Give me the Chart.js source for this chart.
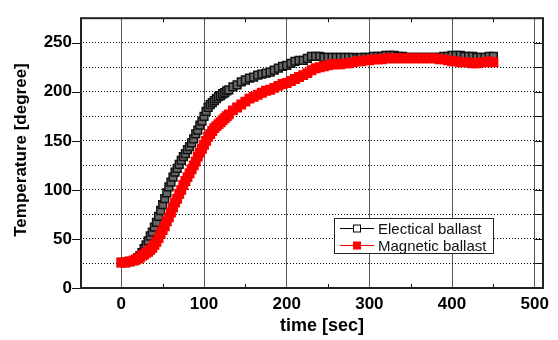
<!DOCTYPE html>
<html>
<head>
<meta charset="utf-8">
<script src="https://cdn.jsdelivr.net/npm/chart.js@4.4.1/dist/chart.umd.min.js"></script>
<style>
html,body{margin:0;padding:0;background:#fff}
#wrap{width:558px;height:340px;position:relative}
</style>
</head>
<body>
<div id="wrap"><canvas id="myChart" width="558" height="340"></canvas></div>
<script>
// sample times [sec]
let times = [0,5,10,
	15,17.5,20,22.5,25,27.5,30,32.5,35,37.5,
	40,42.5,45,47.5,50,52.5,55,57.5,60,62.5,
	65,67.5,70,72.5,75,77.5,80,82.5,85,87.5,
	90,92.5,95,97.5,100,102.5,105,107.5,110,112.5,
	115,117.5,120,122.5,125,127.5,130,
	135,140,145,150,155,160,165,170,175,180,
	185,190,195,200,205,210,215,220,225,230,
	235,240,245,250,255,260,265,270,275,280,
	285,290,295,300,305,310,315,320,325,330,
	335,340,345,350,355,360,365,370,375,380,
	385,390,395,400,405,410,415,420,425,430,
	435,440,445,450]

let electrical = [26,26,27,
	28,29,31,33,36,40,44,48,53,57,
	62,67,73,79,85,91,97,103,108,113,
	118,122,126,130,134,137,141,144,148,152,
	157,161,166,170,175,180,184,187,189,191,
	193,195,196,198,199,201,202,
	205,207,210,212,214,215,217,218,219,220,
	222,224,226,227,229,231,232,232,234,236,
	236,236,235,235,235,235,235,235,235,235,
	234,235,235,235,236,236,236,237,237,237,
	236,236,235,235,235,235,235,235,235,235,
	235,236,236,237,237,237,236,236,236,235,
	235,235,236,236]

let magnetic = [26,26,27,
	28,29,30,31,33,34,36,37,39,41,
	44,47,51,55,59,63,68,72,77,82,
	87,91,96,100,105,109,113,117,121,125,
	129,134,138,142,146,150,154,157,160,163,
	165,167,169,171,173,175,177,
	181,184,187,190,193,195,197,199,201,202,
	204,206,208,209,211,213,215,217,219,222,
	224,225,226,227,228,228,228,229,229,230,
	231,231,232,232,233,233,233,234,234,234,
	234,234,234,234,234,234,234,234,234,234,
	233,233,232,231,231,230,230,230,229,229,
	230,230,231,230]

let xTicks = [0,100,200,300,400,500]
let xMinor = [50,150,250,350,450]
let yGrid = [0,25,50,75,100,125,150,175,200,225,250]
let yLabels = [0,50,100,150,200,250]

const FONT = "'Liberation Sans', Arial, sans-serif"

function points(values) {
	return values.map((v, i) => ({x: times[i], y: v}))
}

const framePlugin = {
	id: 'frame',
	afterDraw(chart) {
		const ctx = chart.ctx
		const a = chart.chartArea
		const x = chart.scales.x
		const y = chart.scales.y
		ctx.save()
		// small ticks
		ctx.strokeStyle = '#111'
		ctx.lineWidth = 1
		ctx.beginPath()
		for (let v of xMinor) {
			let px = Math.round(x.getPixelForValue(v)) + 0.5
			ctx.moveTo(px, a.bottom); ctx.lineTo(px, a.bottom - 4)
			ctx.moveTo(px, a.top); ctx.lineTo(px, a.top + 4)
		}
		for (let v of yGrid) {
			let py = Math.round(y.getPixelForValue(v)) + 0.5
			ctx.moveTo(a.right, py); ctx.lineTo(a.right - 8, py)
			if (yLabels.includes(v)) { ctx.moveTo(a.left, py); ctx.lineTo(a.left - 8, py) }
		}
		ctx.stroke()
		// frame
		ctx.lineWidth = 2
		ctx.strokeStyle = '#222'
		ctx.strokeRect(a.left + 1, a.top, a.right - a.left - 1, a.bottom - a.top)

		// axis titles
		ctx.fillStyle = '#000'
		ctx.textAlign = 'center'
		ctx.textBaseline = 'middle'
		ctx.font = 'bold 18px ' + FONT
		ctx.fillText('time [sec]', 322, 326)
		ctx.save()
		ctx.translate(21, 150)
		ctx.rotate(-Math.PI / 2)
		ctx.font = 'bold 17px ' + FONT
		ctx.fillText('Temperature [degree]', 0, 0)
		ctx.restore()

		// legend
		let bx = a.right - 209, by = a.bottom - 70
		ctx.lineWidth = 1
		ctx.strokeStyle = '#222'
		ctx.fillStyle = '#fff'
		ctx.fillRect(bx, by, 159, 35)
		ctx.strokeRect(bx + 0.5, by + 0.5, 159, 35)
		let rows = [
			{label: 'Electical ballast', line: '#000', fill: '#fff', size: 7, cy: by + 10.5},
			{label: 'Magnetic ballast', line: '#ff0000', fill: '#ff0000', size: 8, cy: by + 27.5}
		]
		ctx.textAlign = 'left'
		ctx.font = '15px ' + FONT
		for (let r of rows) {
			ctx.strokeStyle = r.line
			ctx.beginPath()
			ctx.moveTo(bx + 6, r.cy); ctx.lineTo(bx + 40, r.cy)
			ctx.stroke()
			ctx.fillStyle = r.fill
			ctx.fillRect(bx + 23 - r.size / 2, r.cy - r.size / 2, r.size, r.size)
			if (r.fill == '#fff') {
				ctx.strokeStyle = '#000'
				ctx.strokeRect(bx + 23 - r.size / 2, r.cy - r.size / 2, r.size, r.size)
			}
			ctx.fillStyle = '#111'
			ctx.fillText(r.label, bx + 44, r.cy + 1)
		}
		ctx.restore()
	}
}

new Chart('myChart', {
	type: 'line',
	data: {
		datasets: [
			{
				label: 'Magnetic ballast',
				data: points(magnetic),
				borderColor: '#ff0000',
				borderWidth: 2,
				pointStyle: 'rect',
				pointRadius: 7,
				pointBackgroundColor: '#ff0000',
				pointBorderColor: '#ff0000',
				pointBorderWidth: 0
			},
			{
				label: 'Electical ballast',
				data: points(electrical),
				borderColor: '#000',
				borderWidth: 1,
				pointStyle: 'rect',
				pointRadius: 5.5,
				pointBackgroundColor: '#666',
				pointBorderColor: '#111',
				pointBorderWidth: 1.5
			}
		]
	},
	options: {
		responsive: false,
		animation: false,
		layout: {padding: {top: 8, right: 15, left: 0, bottom: 0}},
		plugins: {legend: {display: false}, tooltip: {enabled: false}},
		scales: {
			x: {
				type: 'linear',
				min: -50,
				max: 510,
				afterFit(s) { s.height = 52 },
				afterBuildTicks(s) { s.ticks = xTicks.map(v => ({value: v})) },
				grid: {color: '#555', drawTicks: false},
				border: {display: false},
				ticks: {color: '#000', padding: 6, maxRotation: 0, font: {family: FONT, size: 17, weight: 'bold'}}
			},
			y: {
				min: 0,
				max: 275,
				afterFit(s) { s.width = 80 },
				afterBuildTicks(s) { s.ticks = yGrid.map(v => ({value: v})) },
				grid: {color: '#000', drawTicks: false},
				border: {display: false, dash: [1, 2]},
				ticks: {
					color: '#000', padding: 8, font: {family: FONT, size: 17, weight: 'bold'},
					callback: v => yLabels.includes(v) ? v : ''
				}
			}
		}
	},
	plugins: [framePlugin]
})
</script>
</body>
</html>
